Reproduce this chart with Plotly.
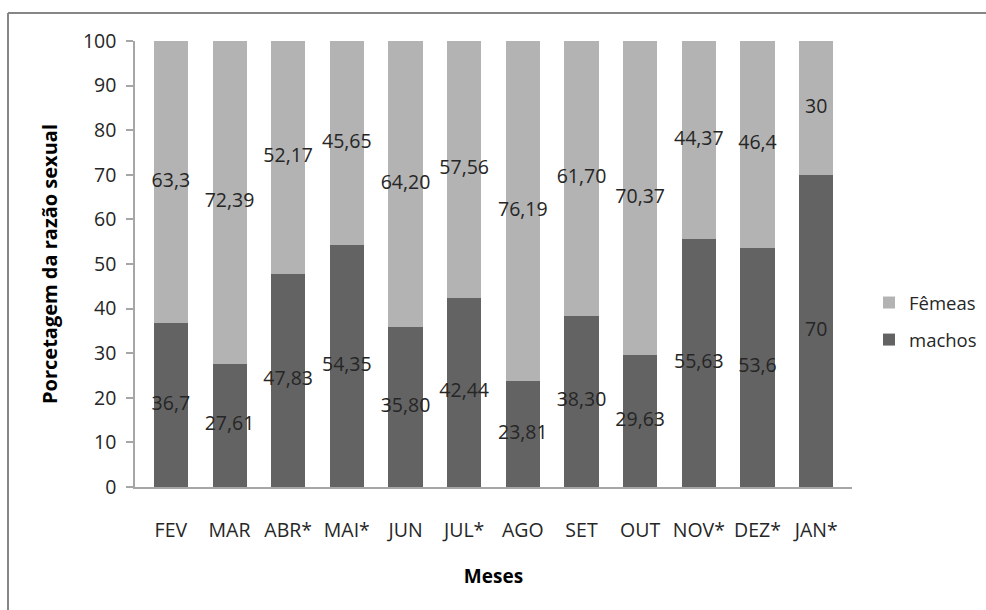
import plotly.graph_objects as go

# Monthly sex ratio (%) — values as printed on the bars
meses = ["FEV", "MAR", "ABR*", "MAI*", "JUN", "JUL*", "AGO", "SET", "OUT", "NOV*", "DEZ*", "JAN*"]
machos_txt = ["36,7", "27,61", "47,83", "54,35", "35,80", "42,44", "23,81", "38,30", "29,63", "55,63", "53,6", "70"]
femeas_txt = ["63,3", "72,39", "52,17", "45,65", "64,20", "57,56", "76,19", "61,70", "70,37", "44,37", "46,4", "30"]
y_ticks = [0, 10, 20, 30, 40, 50, 60, 70, 80, 90, 100]


def to_num(s):
    return float(s.replace(",", "."))


machos = [to_num(s) for s in machos_txt]
femeas = [to_num(s) for s in femeas_txt]

FONT = "Open Sans"
C_MACHOS = "#636363"
C_FEMEAS = "#B3B3B3"
TXT = "#262626"
FS = 19.5

fig = go.Figure()
fig.add_trace(go.Bar(x=meses, y=machos, name="machos", legendgroup="m", legendrank=2,
                     marker=dict(color=C_MACHOS, line=dict(width=0))))
fig.add_trace(go.Bar(x=meses, y=femeas, name="Fêmeas", legendgroup="f", legendrank=1,
                     marker=dict(color=C_FEMEAS, line=dict(width=0))))

# value labels centred on each stacked segment
fig.add_trace(go.Scatter(
    x=meses, y=[m / 2 for m in machos], text=machos_txt, mode="text",
    textfont=dict(family=FONT, size=FS, color=TXT), showlegend=False, hoverinfo="skip"))
fig.add_trace(go.Scatter(
    x=meses, y=[m + f / 2 for m, f in zip(machos, femeas)], text=femeas_txt, mode="text",
    textfont=dict(family=FONT, size=FS, color=TXT), showlegend=False, hoverinfo="skip"))

L, R, T, B = 135, 134, 41, 123
W, H = 986, 610
pw, ph = W - L - R, H - T - B

fig.update_layout(
    width=W, height=H,
    margin=dict(l=L, r=R, t=T, b=B, autoexpand=False),
    barmode="stack", bargap=0.42,
    paper_bgcolor="white", plot_bgcolor="white",
    font=dict(family=FONT, size=FS, color=TXT),
    showlegend=True,
    legend=dict(
        xref="container", yref="container",
        x=869 / W, y=1 - 284 / H, xanchor="left", yanchor="top",
        traceorder="grouped",
        font=dict(family=FONT, size=18.5, color=TXT),
        itemwidth=30, tracegroupgap=10, bgcolor="rgba(0,0,0,0)",
    ),
    xaxis=dict(
        showline=True, linecolor="#A6A6A6", linewidth=1.5,
        ticks="", ticklabelstandoff=25, showgrid=False, zeroline=False,
        tickfont=dict(family=FONT, size=FS, color=TXT),
        title=dict(text="<b>Meses</b>", font=dict(family=FONT, size=19, color="#000000"), standoff=28),
    ),
    yaxis=dict(
        range=[0, 100], tickvals=y_ticks, showline=True, linecolor="#A6A6A6", linewidth=1.5,
        ticks="outside", ticklen=7, tickcolor="#A6A6A6", tickwidth=1.5,
        ticklabelstandoff=6, showgrid=False, zeroline=False,
        tickfont=dict(family=FONT, size=FS, color=TXT),
        title=dict(text="<b>Porcetagem da razão sexual</b>",
                   font=dict(family=FONT, size=20, color="#000000"), standoff=20),
    ),
)

# outer chart frame (left and top edges visible)
bx = (8 - L) / pw
by = 1 + (T - 13) / ph
fig.add_shape(type="line", xref="paper", yref="paper", x0=bx, x1=1.5, y0=by, y1=by,
              line=dict(color="#868686", width=2))
fig.add_shape(type="line", xref="paper", yref="paper", x0=bx, x1=bx, y0=by, y1=-0.5,
              line=dict(color="#868686", width=2))

fig.write_html("out.html")
